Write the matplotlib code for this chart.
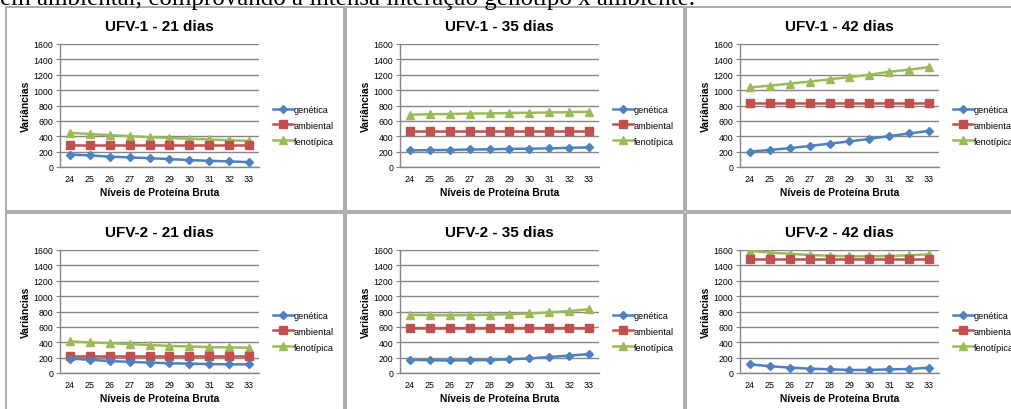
import matplotlib
matplotlib.use('Agg')
from matplotlib import pyplot as plt
from matplotlib.patches import Rectangle

plt.rcParams['font.family'] = ['Liberation Sans', 'DejaVu Sans']

niveis = [24, 25, 26, 27, 28, 29, 30, 31, 32, 33]
series_names = ['genética', 'ambiental', 'fenotípica']

titles = ['UFV-1 - 21 dias', 'UFV-1 - 35 dias', 'UFV-1 - 42 dias',
          'UFV-2 - 21 dias', 'UFV-2 - 35 dias', 'UFV-2 - 42 dias']

# UFV-1
ufv1_21_gen = [162, 150, 135, 125, 115, 103, 90, 80, 73, 63]
ufv1_21_amb = [280, 280, 280, 280, 280, 280, 280, 280, 280, 280]
ufv1_21_fen = [445, 428, 415, 402, 388, 378, 368, 358, 348, 340]

ufv1_35_gen = [216, 220, 222, 228, 230, 236, 238, 242, 250, 255]
ufv1_35_amb = [463, 463, 463, 463, 463, 463, 463, 463, 463, 463]
ufv1_35_fen = [680, 687, 689, 695, 697, 703, 705, 709, 713, 718]

ufv1_42_gen = [200, 222, 245, 274, 304, 333, 366, 402, 436, 470]
ufv1_42_amb = [835, 835, 835, 835, 835, 835, 835, 835, 835, 835]
ufv1_42_fen = [1035, 1058, 1084, 1112, 1140, 1170, 1200, 1238, 1266, 1300]

# UFV-2
ufv2_21_gen = [188, 172, 155, 145, 135, 127, 121, 116, 113, 112]
ufv2_21_amb = [218, 218, 218, 218, 218, 218, 218, 218, 218, 218]
ufv2_21_fen = [410, 398, 388, 376, 364, 352, 346, 336, 333, 330]

ufv2_35_gen = [172, 165, 164, 165, 170, 177, 190, 208, 226, 246]
ufv2_35_amb = [584, 584, 584, 584, 584, 584, 584, 584, 584, 584]
ufv2_35_fen = [757, 752, 752, 753, 757, 765, 774, 788, 805, 830]

ufv2_42_gen = [113, 88, 70, 57, 48, 40, 40, 47, 52, 69]
ufv2_42_amb = [1478, 1478, 1478, 1478, 1478, 1478, 1478, 1478, 1478, 1478]
ufv2_42_fen = [1590, 1566, 1551, 1535, 1526, 1518, 1518, 1522, 1531, 1544]

data = [
    [ufv1_21_gen, ufv1_21_amb, ufv1_21_fen],
    [ufv1_35_gen, ufv1_35_amb, ufv1_35_fen],
    [ufv1_42_gen, ufv1_42_amb, ufv1_42_fen],
    [ufv2_21_gen, ufv2_21_amb, ufv2_21_fen],
    [ufv2_35_gen, ufv2_35_amb, ufv2_35_fen],
    [ufv2_42_gen, ufv2_42_amb, ufv2_42_fen],
]

colors = ['#4F81BD', '#C0504D', '#9BBB59']
markers = ['D', 's', '^']
msizes = [4.5, 6, 5.5]

W, H = 1012, 410
fig = plt.figure(figsize=(W / 100, H / 100), dpi=100)


def fx(px):
    return px / W


def fy(py):
    return 1 - py / H


# text line of the document, cut at the top like in the page screenshot
fig.text(fx(0), fy(5), 'em ambiental, comprovando a intensa interação genótipo x ambiente.',
         family='Liberation Serif', fontsize=18, va='baseline', ha='left')

col_left = [6, 346, 686]
row_top = [8, 214]
panel_w = [338, 338, 340]
panel_h = [204, 200]

for i in range(6):
    r, c = divmod(i, 3)
    left, top = col_left[c], row_top[r]

    # chart frame
    fig.patches.append(Rectangle((fx(left), fy(top + panel_h[r])), panel_w[c] / W, panel_h[r] / H,
                                 transform=fig.transFigure, fill=False,
                                 edgecolor='#a6a6a6', linewidth=1.3))

    ax = fig.add_axes([fx(left + 54), fy(top + 160), 199 / W, 123 / H])
    x = list(range(len(niveis)))
    for s in range(3):
        ax.plot(x, data[i][s], color=colors[s], marker=markers[s], markersize=msizes[s],
                linewidth=1.8, label=series_names[s], zorder=3 + (2 - s) * 0.1)

    ax.set_xlim(-0.5, len(niveis) - 0.5)
    ax.set_ylim(0, 1600)
    ax.set_yticks(range(0, 1601, 200))
    ax.set_xticks(x)
    ax.set_xticklabels([str(n) for n in niveis])
    ax.tick_params(axis='y', labelsize=6.3, length=3, color='#868686', pad=2)
    ax.tick_params(axis='x', labelsize=6.4, length=0, pad=5)
    ax.grid(axis='y', color='#868686', linewidth=1.0)
    ax.set_axisbelow(True)
    for side in ['top', 'right']:
        ax.spines[side].set_visible(False)
    for side in ['left', 'bottom']:
        ax.spines[side].set_color('#868686')
        ax.spines[side].set_linewidth(1.0)

    ax.set_xlabel('Níveis de Proteína Bruta', fontsize=7.4, fontweight='bold', labelpad=3)
    ax.set_ylabel('Variâncias', fontsize=7.4, fontweight='bold', labelpad=2)
    ax.set_title(titles[i], fontsize=11, fontweight='bold', pad=10)

    ax.legend(loc='center left', bbox_to_anchor=(1.07, 0.34), frameon=False, fontsize=6.6,
              handlelength=2.2, handletextpad=0.05, labelspacing=0.75, borderaxespad=0,
              borderpad=0)

fig.savefig('out.png', dpi=100)
